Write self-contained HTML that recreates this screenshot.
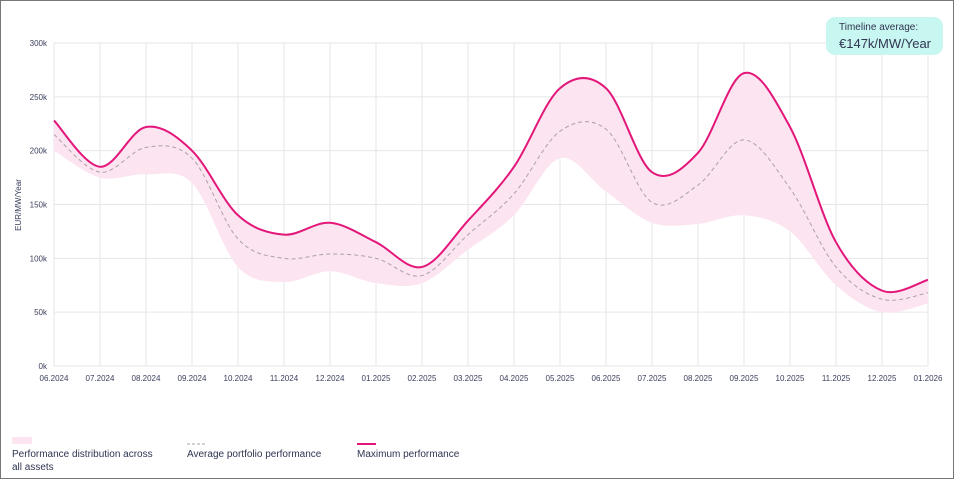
<!DOCTYPE html>
<html><head><meta charset="utf-8"><style>
html,body{margin:0;padding:0;background:#fff;}
body{width:954px;height:479px;overflow:hidden;font-family:"Liberation Sans",sans-serif;}
#frame{position:absolute;left:0;top:0;width:952px;height:477px;border:1px solid #777;}
</style></head><body>
<div id="frame"></div>
<svg id="s" width="954" height="479" style="position:absolute;left:0;top:0" font-family="Liberation Sans, sans-serif"></svg>
<div style="position:absolute;left:826px;top:17px;width:117px;height:38px;background:#c8f7f1;border-radius:9px;"></div>
<div style="position:absolute;left:839px;top:22px;font-size:10px;color:#2f3450;">Timeline average:</div>
<div style="position:absolute;left:839px;top:36px;font-size:13px;color:#2f3450;">€147k/MW/Year</div>
<script>
const s=document.getElementById('s');
const X=i=>54+46*i, Y=v=>366-v*1.0767;
let h='';
for(let k=0;k<=6;k++){const y=Y(k*50);h+=`<line x1="54" x2="928" y1="${y}" y2="${y}" stroke="#e6e6ea" stroke-width="1"/>`;
h+=`<text x="47" y="${y+3}" font-size="8" fill="#3a3f5a" text-anchor="end">${k*50}k</text>`;}
const m=['06.2024','07.2024','08.2024','09.2024','10.2024','11.2024','12.2024','01.2025','02.2025','03.2025','04.2025','05.2025','06.2025','07.2025','08.2025','09.2025','10.2025','11.2025','12.2025','01.2026'];
m.forEach((t,i)=>{h+=`<line x1="${X(i)}" x2="${X(i)}" y1="43" y2="366" stroke="#e6e6ea"/>`;
h+=`<text x="${X(i)}" y="381" font-size="8" fill="#3a3f5a" text-anchor="middle">${t}</text>`;});
const mx=[228,185,222,200,140,122,133,115,92,135,185,258,258,180,198,272,222,115,70,80];
const av=[215,180,203,193,118,100,104,100,84,122,160,218,220,152,168,210,165,92,62,68];
const mn=[200,175,178,170,92,78,88,77,77,108,140,193,162,133,132,140,125,75,50,58];
function pts(a){return a.map((v,i)=>[X(i),Y(v)]);}
function curve(p,start){let d=start?`M${p[0][0]},${p[0][1]}`:`L${p[0][0]},${p[0][1]}`;
for(let i=0;i<p.length-1;i++){const p0=p[Math.max(0,i-1)],p1=p[i],p2=p[i+1],p3=p[Math.min(p.length-1,i+2)];
const c1=[p1[0]+(p2[0]-p0[0])/6,p1[1]+(p2[1]-p0[1])/6],c2=[p2[0]-(p3[0]-p1[0])/6,p2[1]-(p3[1]-p1[1])/6];
d+=`C${c1[0]},${c1[1]} ${c2[0]},${c2[1]} ${p2[0]},${p2[1]}`;}return d;}
const pm=pts(mx),pa=pts(av),pn=pts(mn);
h+=`<path d="${curve(pm,true)}${curve(pn.slice().reverse(),false)}Z" fill="#fce4f0"/>`;
h+=`<path d="${curve(pa,true)}" fill="none" stroke="#a9a1aa" stroke-width="1" stroke-dasharray="4,3"/>`;
h+=`<path d="${curve(pm,true)}" fill="none" stroke="#e3177a" stroke-width="2"/>`;
h+=`<text transform="translate(21,205) rotate(-90)" font-size="8" fill="#3a3f5a" text-anchor="middle">EUR/MW/Year</text>`;
h+=`<rect x="12" y="437" width="20" height="7" fill="#fce4f0"/>`;
h+=`<line x1="187" x2="207" y1="444" y2="444" stroke="#a9a1aa" stroke-dasharray="3,2"/>`;
h+=`<line x1="357" x2="376" y1="444" y2="444" stroke="#e3177a" stroke-width="2"/>`;
h+=`<text x="12" y="457" font-size="10" fill="#2f3450">Performance distribution across</text>`;
h+=`<text x="12" y="470" font-size="10" fill="#2f3450">all assets</text>`;
h+=`<text x="187" y="457" font-size="10" fill="#2f3450">Average portfolio performance</text>`;
h+=`<text x="357" y="457" font-size="10" fill="#2f3450">Maximum performance</text>`;
s.innerHTML=h;
</script>
</body></html>
